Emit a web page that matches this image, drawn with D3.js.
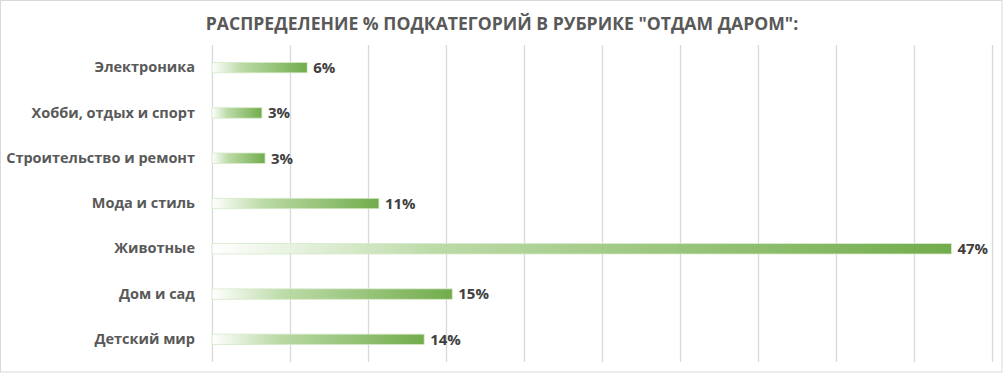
<!DOCTYPE html>
<html>
<head>
<meta charset="utf-8">
<script src="https://cdn.jsdelivr.net/npm/d3@7"></script>
<style>
  body { margin: 0; background: #fff; }
  svg { display: block; font-family: "Open Sans", sans-serif; }
</style>
</head>
<body>
<div id="chart-container"></div>
<script>
// Chart data (listed top to bottom as in the picture)
const categories = ["Электроника", "Хобби, отдых и спорт", "Строительство и ремонт",
  "Мода и стиль", "Животные", "Дом и сад", "Детский мир"];
const shares = [6.1, 3.2, 3.4, 10.7, 47.4, 15.4, 13.6];
const valueLabels = ["6%", "3%", "3%", "11%", "47%", "15%", "14%"];
const xTicks = [0, 5, 10, 15, 20, 25, 30, 35, 40, 45, 50];

const width = 1004;
const height = 374;
const marginTop = 45;
const marginRight = 12;
const marginBottom = 12;
const marginLeft = 212;

const x = d3.scaleLinear()
    .domain([0, 50])
    .range([marginLeft, width - marginRight]);

const y = d3.scaleBand()
    .domain(categories)
    .range([marginTop, height - marginBottom])
    .paddingInner(0.77)
    .paddingOuter(0.385);

const svg = d3.create("svg")
    .attr("width", width)
    .attr("height", height);

// outer frame
svg.append("rect")
    .attr("x", 0.5).attr("y", 0.5)
    .attr("width", width - 2.5).attr("height", height - 2.5)
    .attr("fill", "#fff")
    .attr("stroke", "#d9d9d9");

// gradient for bars: white on the left, green at the value end
const grad = svg.append("defs").append("linearGradient")
    .attr("id", "barGrad")
    .attr("x1", 0).attr("x2", 1).attr("y1", 0).attr("y2", 0);
grad.append("stop").attr("offset", "0%").attr("stop-color", "#ffffff");
grad.append("stop").attr("offset", "30%").attr("stop-color", "#b9d9a3");
grad.append("stop").attr("offset", "100%").attr("stop-color", "#6aa842");

// title
svg.append("text")
    .attr("x", width / 2)
    .attr("y", 30)
    .attr("text-anchor", "middle")
    .attr("font-size", 17.6)
    .attr("font-weight", "bold")
    .attr("fill", "#595959")
    .text("РАСПРЕДЕЛЕНИЕ % ПОДКАТЕГОРИЙ В РУБРИКЕ \"ОТДАМ ДАРОМ\":");

// vertical gridlines
svg.append("g")
    .attr("transform", `translate(0,${height - marginBottom})`)
    .call(d3.axisBottom(x).tickValues(xTicks).tickSize(-(height - marginBottom - marginTop)).tickFormat(""))
    .call(g => g.select(".domain").remove())
    .call(g => g.selectAll(".tick line").attr("stroke", "#d9d9d9").attr("stroke-width", 1.3));

// bars
svg.append("g")
  .selectAll("rect")
  .data(categories)
  .join("rect")
    .attr("x", x(0))
    .attr("y", d => y(d))
    .attr("width", (d, i) => x(shares[i]) - x(0))
    .attr("height", y.bandwidth())
    .attr("fill", "url(#barGrad)")
    .attr("fill-opacity", 0.95)
    .attr("stroke", "#d6e9c9")
    .attr("stroke-width", 0.8);

// category labels
svg.append("g")
    .attr("transform", `translate(${marginLeft - 17},0)`)
    .call(d3.axisLeft(y).tickSize(0).tickPadding(0))
    .call(g => g.select(".domain").remove())
    .call(g => g.selectAll("text")
        .attr("font-family", "Open Sans, sans-serif")
        .attr("font-size", 14.5)
        .attr("font-weight", "bold")
        .attr("fill", "#595959"));

// value labels
svg.append("g")
  .selectAll("text")
  .data(categories)
  .join("text")
    .attr("x", (d, i) => x(shares[i]) + 6)
    .attr("y", d => y(d) + y.bandwidth() / 2)
    .attr("dy", "0.36em")
    .attr("font-size", 15)
    .attr("font-weight", "bold")
    .attr("fill", "#404040")
    .text((d, i) => valueLabels[i]);

d3.select("#chart-container").append(() => svg.node());
</script>
</body>
</html>
